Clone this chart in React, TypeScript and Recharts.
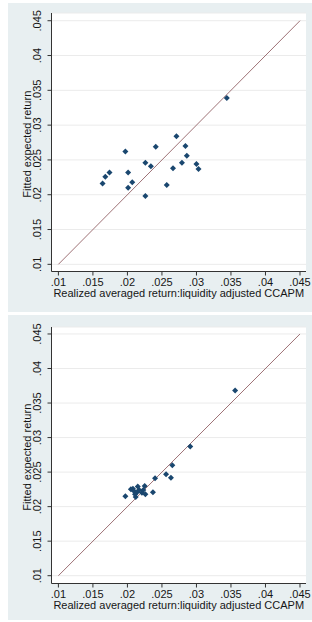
import React from 'react';
import { ScatterChart, Scatter, XAxis, YAxis, CartesianGrid, ReferenceLine, Label } from 'recharts';

const tickValues = [0.01, 0.015, 0.02, 0.025, 0.03, 0.035, 0.04, 0.045];
const tickLabels = ['.01', '.015', '.02', '.025', '.03', '.035', '.04', '.045'];
const xTitle = 'Realized averaged return:liquidity adjusted CCAPM';
const yTitle = 'Fitted expected return';

const topRealized = [0.0164, 0.0168, 0.0174, 0.0197, 0.0201, 0.0201, 0.0207, 0.0226, 0.0226, 0.0234, 0.0241, 0.0257, 0.0266, 0.0271, 0.0279, 0.0284, 0.0286, 0.03, 0.0303, 0.0344];
const topFitted = [0.0216, 0.0226, 0.0232, 0.0262, 0.0232, 0.021, 0.0218, 0.0198, 0.0246, 0.0241, 0.0269, 0.0214, 0.0238, 0.0284, 0.0246, 0.027, 0.0256, 0.0244, 0.0237, 0.0339];

const bottomRealized = [0.0197, 0.0205, 0.0208, 0.0209, 0.0212, 0.0214, 0.0221, 0.0223, 0.0225, 0.0226, 0.0217, 0.0211, 0.0215, 0.0237, 0.024, 0.0256, 0.0263, 0.0265, 0.0291, 0.0356];
const bottomFitted = [0.0215, 0.0225, 0.0226, 0.0223, 0.0214, 0.0221, 0.022, 0.0224, 0.023, 0.0218, 0.0224, 0.0218, 0.0229, 0.0221, 0.0241, 0.0247, 0.0242, 0.026, 0.0287, 0.0368];

const diagonal = [
  { x: 0.01, y: 0.01 },
  { x: 0.045, y: 0.045 },
];

const BG = '#e8eff1';
const FONT = '"Liberation Sans", Arial, sans-serif';
const TXT = '#161616';
const X_DOMAIN: [number, number] = [0.009, 0.04587];

const fmt = (v: number) => {
  const i = tickValues.findIndex((t) => Math.abs(t - v) < 1e-9);
  return i >= 0 ? tickLabels[i] : String(v);
};

const Diamond = (props: any) => {
  const { cx, cy } = props;
  if (cx == null || cy == null) return null;
  const r = 3;
  return (
    <polygon
      points={`${cx},${cy - r} ${cx + r},${cy} ${cx},${cy + r} ${cx - r},${cy}`}
      fill="#1a476f"
    />
  );
};

type PanelProps = {
  realized: number[];
  fitted: number[];
  height: number;
  plotTop: number;
  plotBottom: number;
  yDomain: [number, number];
};

function Panel({ realized, fitted, height, plotTop, plotBottom, yDomain }: PanelProps) {
  const data = realized.map((x, i) => ({ x, y: fitted[i] }));
  const xAxisHeight = height - plotBottom;
  const yAxisWidth = 43.5;
  const plotRight = 298;
  const xCenter = (yAxisWidth + plotRight) / 2;
  const yCenter = (plotTop + plotBottom) / 2 + 2;
  return (
    <div style={{ width: 304, height, background: BG }}>
      <ScatterChart width={304} height={height} margin={{ top: plotTop, right: 304 - plotRight, bottom: 0, left: 0 }}>
        <CartesianGrid horizontal vertical={false} stroke="#ebebeb" fill="#ffffff" />
        <XAxis
          type="number"
          dataKey="x"
          domain={X_DOMAIN}
          ticks={tickValues}
          interval={0}
          allowDataOverflow
          height={xAxisHeight}
          tickSize={4}
          axisLine={{ stroke: '#333333' }}
          tickLine={{ stroke: '#333333' }}
          tick={(p: any) => (
            <text x={p.x} y={plotBottom + 14} textAnchor="middle" fontSize={11} fontFamily={FONT} fill={TXT}>
              {fmt(p.payload.value)}
            </text>
          )}
        >
          <Label
            content={() => (
              <text x={xCenter} y={plotBottom + 25.5} textAnchor="middle" fontSize={11} fontFamily={FONT} fill={TXT}>
                {xTitle}
              </text>
            )}
          />
        </XAxis>
        <YAxis
          type="number"
          dataKey="y"
          domain={yDomain}
          ticks={tickValues}
          interval={0}
          allowDataOverflow
          width={yAxisWidth}
          tickSize={4}
          axisLine={{ stroke: '#333333' }}
          tickLine={{ stroke: '#333333' }}
          tick={(p: any) => (
            <text
              x={33}
              y={p.y}
              transform={`rotate(-90 33 ${p.y})`}
              textAnchor="middle"
              fontSize={11}
              fontFamily={FONT}
              fill={TXT}
            >
              {fmt(p.payload.value)}
            </text>
          )}
        >
          <Label
            content={() => (
              <text
                x={23}
                y={yCenter}
                transform={`rotate(-90 23 ${yCenter})`}
                textAnchor="middle"
                fontSize={11}
                fontFamily={FONT}
                fill={TXT}
              >
                {yTitle}
              </text>
            )}
          />
        </YAxis>
        <ReferenceLine
          segment={diagonal}
          stroke="#9e7276"
          strokeWidth={1}
          ifOverflow="extendDomain"
        />
        <Scatter data={data} shape={<Diamond />} isAnimationActive={false} />
      </ScatterChart>
    </div>
  );
}

export default function App() {
  return (
    <div style={{ position: 'absolute', left: 8, top: 3, width: 304 }}>
      <Panel
        realized={topRealized}
        fitted={topFitted}
        height={309}
        plotTop={10}
        plotBottom={268.5}
        yDomain={[0.00897, 0.04611]}
      />
      <div style={{ height: 3 }} />
      <Panel
        realized={bottomRealized}
        fitted={bottomFitted}
        height={305}
        plotTop={12}
        plotBottom={268.5}
        yDomain={[0.00887, 0.04601]}
      />
    </div>
  );
}
